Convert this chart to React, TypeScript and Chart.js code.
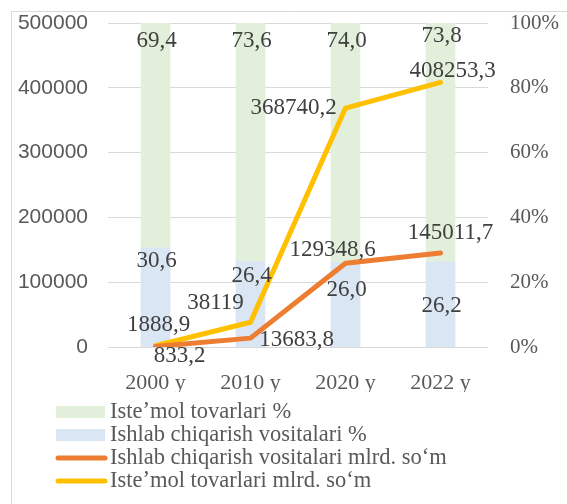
import { useEffect, useRef } from 'react';
import { Chart, registerables } from 'chart.js';

Chart.register(...registerables);

// ---- data ----
const categories = ['2000 y', '2010 y', '2020 y', '2022 y'];
const istemolPct = [69.4, 73.6, 74.0, 73.8];
const ishlabPct = [30.6, 26.4, 26.0, 26.2];
const ishlabMlrd = [833.2, 13683.8, 129348.6, 145011.7];
const istemolMlrd = [1888.9, 38119, 368740.2, 408253.3];
const leftAxisMax = 500000;
const leftAxisStep = 100000;
const rightAxisMax = 100;
const rightAxisStep = 20;
const seriesNames = [
  'Iste\u02bcmol tovarlari %',
  'Ishlab chiqarish vositalari %',
  'Ishlab chiqarish vositalari mlrd. so\u2018m',
  'Iste\u02bcmol tovarlari mlrd. so\u2018m',
];

// ---- styling / label placement (relative offsets) ----
const GREEN = '#e2efda';
const BLUE = '#dae6f4';
const ORANGE = '#ed7d31';
const YELLOW = '#ffc000';
const TEXT = '#404040';
const AXIS_TEXT = '#595959';
const SERIF = '"Liberation Serif", "Times New Roman", serif';
const SANS = '"Liberation Sans", Arial, sans-serif';

// dataset order: 0 blue bar (bottom), 1 green bar (top), 2 orange line, 3 yellow line
// offsets [dx, dy] of label centres from the element's anchor
const labelOffsets: Record<number, number[][]> = {
  0: [[1, 13], [1, 14], [1, 27], [1, 44]], // blue bars (from bar top)
  1: [[1, 18], [1, 18], [1, 18], [1, 13]], // green bars (from bar top)
  2: [[24, 9], [46, 2], [-13, -13], [10, -20]], // orange line
  3: [[3, -21], [-35, -19], [-52, 0], [12, -11]], // yellow line
};
// legend row of each dataset
const legendRow = [1, 0, 2, 3];

const fmtPct = (v: number) => v.toFixed(1).replace('.', ',');
const fmtNum = (v: number) => String(v).replace('.', ',');

const labelPlugin = {
  id: 'valueLabels',
  afterDatasetsDraw(chart: any) {
    const ctx = chart.ctx;
    ctx.save();
    ctx.font = `23px ${SERIF}`;
    ctx.fillStyle = TEXT;
    ctx.textAlign = 'center';
    ctx.textBaseline = 'middle';
    chart.data.datasets.forEach((ds: any, di: number) => {
      const meta = chart.getDatasetMeta(di);
      meta.data.forEach((el: any, i: number) => {
        const v = ds.data[i];
        const txt = di < 2 ? fmtPct(v) : fmtNum(v);
        const off = labelOffsets[di][i];
        ctx.fillText(txt, el.x + off[0], el.y + off[1]);
      });
    });
    ctx.restore();
  },
};

const frameAndLegendPlugin = {
  id: 'frameLegend',
  beforeDraw(chart: any) {
    const ctx = chart.ctx;
    ctx.save();
    ctx.fillStyle = '#ffffff';
    ctx.fillRect(0, 0, chart.width, chart.height);
    ctx.strokeStyle = '#d9d9d9';
    ctx.lineWidth = 1;
    ctx.beginPath();
    ctx.moveTo(11.5, chart.height + 5);
    ctx.lineTo(11.5, 11.5);
    ctx.lineTo(chart.width + 5, 11.5);
    ctx.stroke();
    ctx.restore();
  },
  afterDraw(chart: any) {
    const ctx = chart.ctx;
    ctx.save();
    ctx.font = `22.5px ${SERIF}`;
    ctx.textBaseline = 'middle';
    ctx.textAlign = 'left';
    const x0 = 56;
    const boxW = 49;
    const rowY0 = 412;
    const rowH = 23;
    chart.data.datasets.forEach((ds: any, k: number) => {
      const y = rowY0 + legendRow[k] * rowH;
      if (ds.type === 'bar') {
        ctx.fillStyle = ds.backgroundColor;
        ctx.fillRect(x0, y - 6, boxW, 12);
      } else {
        ctx.strokeStyle = ds.borderColor;
        ctx.lineWidth = 5;
        ctx.lineCap = 'round';
        ctx.beginPath();
        ctx.moveTo(x0 + 2, y);
        ctx.lineTo(x0 + boxW, y);
        ctx.stroke();
      }
      ctx.fillStyle = AXIS_TEXT;
      ctx.fillText(ds.label, x0 + boxW + 5, y);
    });
    ctx.restore();
  },
};

const noPad = (s: any) => {
  s.paddingTop = 0;
  s.paddingBottom = 0;
};

export default function App() {
  const ref = useRef<HTMLCanvasElement | null>(null);

  useEffect(() => {
    if (!ref.current) return;
    const chart = new Chart(ref.current, {
      type: 'bar',
      data: {
        labels: categories,
        datasets: [
          {
            type: 'bar',
            label: seriesNames[1],
            data: ishlabPct,
            backgroundColor: BLUE,
            yAxisID: 'y1',
            stack: 's',
            order: 2,
            barThickness: 29,
          } as any,
          {
            type: 'bar',
            label: seriesNames[0],
            data: istemolPct,
            backgroundColor: GREEN,
            yAxisID: 'y1',
            stack: 's',
            order: 3,
            barThickness: 29,
          } as any,
          {
            type: 'line',
            label: seriesNames[2],
            data: ishlabMlrd,
            borderColor: ORANGE,
            backgroundColor: ORANGE,
            borderWidth: 5,
            borderCapStyle: 'round',
            borderJoinStyle: 'round',
            pointRadius: 0,
            yAxisID: 'y',
            order: 0,
          } as any,
          {
            type: 'line',
            label: seriesNames[3],
            data: istemolMlrd,
            borderColor: YELLOW,
            backgroundColor: YELLOW,
            borderWidth: 5,
            borderCapStyle: 'round',
            borderJoinStyle: 'round',
            pointRadius: 0,
            yAxisID: 'y',
            order: 1,
          } as any,
        ],
      },
      options: {
        responsive: false,
        animation: false,
        events: [],
        layout: { padding: { left: 11, top: 23, right: 0, bottom: 112 } },
        plugins: {
          legend: { display: false },
          tooltip: { enabled: false },
        },
        scales: {
          x: {
            stacked: true,
            grid: { display: false },
            border: { display: false },
            ticks: {
              color: AXIS_TEXT,
              font: { family: SERIF, size: 22 },
              padding: 15,
            },
            afterFit(s: any) {
              s.height = 45;
              s.paddingLeft = 0;
              s.paddingRight = 0;
            },
          },
          y: {
            position: 'left',
            min: 0,
            max: leftAxisMax,
            ticks: {
              stepSize: leftAxisStep,
              color: AXIS_TEXT,
              font: { family: SANS, size: 21 },
              padding: 20,
              callback: (v: any) => String(v),
            },
            grid: { color: '#d9d9d9', drawTicks: false, lineWidth: 1 },
            border: { display: false },
            afterFit(s: any) {
              s.width = 97;
              noPad(s);
            },
          },
          y1: {
            position: 'right',
            stacked: true,
            min: 0,
            max: rightAxisMax,
            ticks: {
              stepSize: rightAxisStep,
              color: AXIS_TEXT,
              font: { family: SERIF, size: 21 },
              padding: 22,
              callback: (v: any) => v + '%',
            },
            grid: { display: false, drawTicks: false },
            border: { display: false },
            afterFit(s: any) {
              s.width = 79;
              noPad(s);
            },
          },
        },
      },
      plugins: [labelPlugin, frameAndLegendPlugin],
    });
    return () => chart.destroy();
  }, []);

  return (
    <div style={{ position: 'fixed', left: 0, top: 0, width: 567, height: 504, background: '#fff' }}>
      <canvas ref={ref} width={567} height={504} style={{ width: 567, height: 504, display: 'block' }} />
    </div>
  );
}
